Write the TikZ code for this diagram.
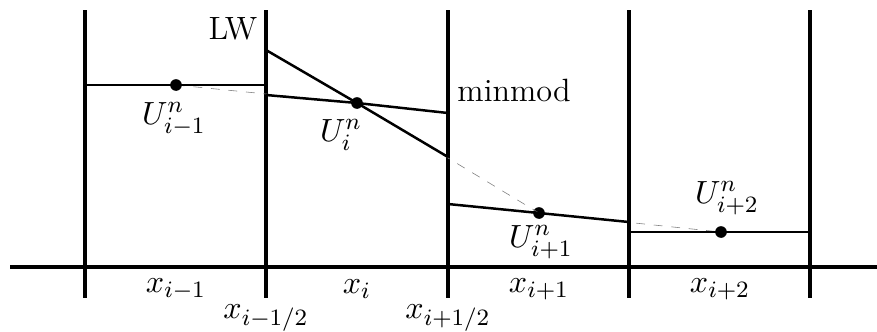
\documentclass[tikz,border=0pt]{standalone}
\usepackage{amsmath}
\usepackage{tikz}
\usetikzlibrary{positioning}

\begin{document}
\begin{tikzpicture}[x=0.012cm,y=-0.012cm,
    every node/.style={font=\fontsize{11}{13}\selectfont},
    dot/.style={circle,fill=black,inner sep=0pt,minimum size=0.14cm},
    recon/.style={line width=0.85pt},
    face/.style={line width=1.15pt}]
    \useasboundingbox (0,0) rectangle (877,331);

    % x-Achse
    \draw[line width=1.4pt] (10,267) -- (877,267);

    % Zellgrenzen
    \foreach \xx/\nm in {85/f0,266/f1,448/f2,629/f3,810/f4}
        \draw[face] (\xx,10) coordinate (\nm) -- (\xx,298);

    % Zellmittelwerte
    \node[dot] (u0) at (176,85) {};
    \node[dot] (u1) at (357,103) {};
    \node[dot] (u2) at (539,213) {};
    \node[dot] (u3) at (721,232) {};

    \node (l0) at (174,119) {$U^n_{i-1}$};
    \node (l1) at (341,135) {$U^n_{i}$};
    \node (l2) at (541,242) {$U^n_{i+1}$};
    \node (l3) at (727,198) {$U^n_{i+2}$};

    % gestrichelte Verbindung
    \draw[gray, dashed, very thin] (u0.center) -- (u1.center) -- (u2.center) -- (u3.center);

    % Rekonstruktionen
    \draw[recon] (85,85) -- (u0.center) -- (266,85);
    \draw[recon] (266,95) -- (u1.center) -- (448,113);   % minmod
    \draw[recon] (266,50) -- (u1.center) -- (448,157);   % LW
    \draw[recon] (448,204) -- (u2.center) -- (629,222);
    \draw[recon] (629,232) -- (u3.center) -- (810,232);

    \node (lw) at (233,29) {LW};
    \node (mm) at (514,90) {minmod};

    % Beschriftung der Achse
    \node (x0) at (176,289) {$x_{i-1}$};
    \node (x1) at (357,289) {$x_{i}$};
    \node (x2) at (539,289) {$x_{i+1}$};
    \node (x3) at (720,289) {$x_{i+2}$};
    \node (xh0) at (266,318) {$x_{i-1/2}$};
    \node (xh1) at (448,318) {$x_{i+1/2}$};
\end{tikzpicture}
\end{document}
